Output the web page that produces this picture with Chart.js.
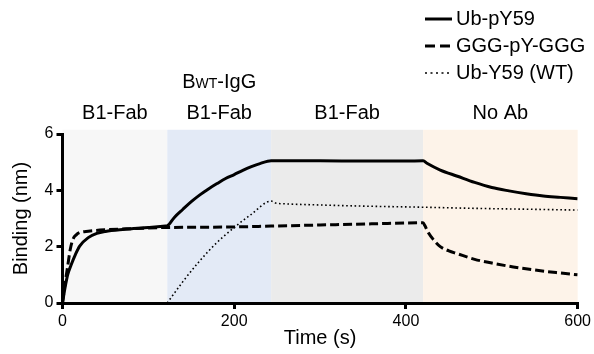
<!DOCTYPE html>
<html>
<head>
    <title>Binding kinetics</title>
    <script src="https://cdn.jsdelivr.net/npm/chart.js"></script>
    <style>
        body { margin: 0; background: #fff; }
    </style>
</head>
<body>
    <canvas id="bindingChart" width="594" height="354"></canvas>

    <script>
        // series (time in s, binding in nm)
        const pY59Time = [0, 3, 6, 10, 15, 20, 30, 40, 50, 70, 100, 120, 122, 130, 140, 150, 160, 170, 180, 190, 200, 210, 220, 230, 243, 260, 300, 350, 400, 420, 425, 440, 460, 480, 500, 520, 540, 560, 580, 600];
        const pY59Vals = [0, 0.55, 1.0, 1.35, 1.72, 2.02, 2.32, 2.47, 2.54, 2.61, 2.68, 2.73, 2.74, 3.03, 3.32, 3.6, 3.84, 4.05, 4.24, 4.42, 4.56, 4.71, 4.84, 4.95, 5.05, 5.05, 5.05, 5.04, 5.04, 5.05, 4.95, 4.72, 4.5, 4.28, 4.1, 3.98, 3.88, 3.8, 3.75, 3.7];

        const gggTime = [0, 3, 6, 9, 12, 16, 20, 30, 50, 80, 120, 160, 200, 243, 300, 360, 420, 422, 426, 432, 440, 450, 460, 480, 500, 525, 550, 575, 600];
        const gggVals = [0, 0.7, 1.3, 1.9, 2.25, 2.42, 2.5, 2.55, 2.6, 2.64, 2.68, 2.69, 2.7, 2.73, 2.77, 2.81, 2.85, 2.75, 2.5, 2.25, 2.0, 1.85, 1.75, 1.55, 1.42, 1.28, 1.17, 1.08, 1.0];

        const wtTime = [122, 140, 160, 180, 200, 220, 243, 248, 260, 300, 350, 420, 480, 540, 600];
        const wtVals = [0, 0.75, 1.5, 2.15, 2.68, 3.15, 3.62, 3.55, 3.52, 3.48, 3.44, 3.4, 3.36, 3.33, 3.3];

        const seriesNames = ['Ub-pY59', 'GGG-pY-GGG', 'Ub-Y59 (WT)'];

        // phases of the experiment
        const phaseStart = [0, 122, 243, 420];
        const phaseEnd = [122, 243, 420, 600];
        const phaseLabels = ['B1-Fab', 'B1-Fab', 'B1-Fab', 'No Ab'];
        const phaseColors = ['#f7f7f7', '#e3eaf6', '#ebebeb', '#fdf3e9'];

        const xTicks = [0, 200, 400, 600];
        const yTicks = [0, 2, 4, 6];

        const FONT = 'Liberation Sans, Arial, Helvetica, sans-serif';

        function toPoints(xs, ys) {
            return xs.map((x, i) => ({ x: x, y: ys[i] }));
        }

        const phasePlugin = {
            id: 'phases',
            beforeDraw(chart) {
                const ctx = chart.ctx;
                const xs = chart.scales.x, ys = chart.scales.y;
                const top = ys.getPixelForValue(6.15);
                const bottom = ys.getPixelForValue(0);
                ctx.save();
                phaseStart.forEach((s, i) => {
                    const l = xs.getPixelForValue(s);
                    const r = xs.getPixelForValue(phaseEnd[i]);
                    ctx.fillStyle = phaseColors[i];
                    ctx.fillRect(l, top, r - l, bottom - top);
                });
                ctx.restore();
            },
            afterDraw(chart) {
                const ctx = chart.ctx;
                const xs = chart.scales.x;
                ctx.save();
                ctx.fillStyle = '#000';
                ctx.textBaseline = 'alphabetic';
                ctx.font = '20px ' + FONT;
                ctx.textAlign = 'center';
                phaseStart.forEach((s, i) => {
                    const cx = xs.getPixelForValue((s + phaseEnd[i]) / 2);
                    ctx.fillText(phaseLabels[i], cx, 119);
                });

                // "BWT-IgG" above the second phase, WT in small caps
                const cx2 = xs.getPixelForValue((phaseStart[1] + phaseEnd[1]) / 2);
                ctx.textAlign = 'left';
                ctx.font = '20px ' + FONT;
                const wB = ctx.measureText('B').width;
                const wTail = ctx.measureText('-IgG').width;
                ctx.font = '14px ' + FONT;
                const wWT = ctx.measureText('WT').width;
                let x0 = cx2 - (wB + wWT + wTail) / 2;
                ctx.font = '20px ' + FONT;
                ctx.fillText('B', x0, 88);
                ctx.font = '14px ' + FONT;
                ctx.fillText('WT', x0 + wB, 88);
                ctx.font = '20px ' + FONT;
                ctx.fillText('-IgG', x0 + wB + wWT, 88);

                // legend
                chart.data.datasets.forEach((ds, i) => {
                    const base = 25 + i * 27;
                    ctx.strokeStyle = ds.borderColor;
                    ctx.lineWidth = ds.borderWidth;
                    ctx.setLineDash(ds.legendDash);
                    ctx.beginPath();
                    ctx.moveTo(425, base - 6);
                    ctx.lineTo(452, base - 6);
                    ctx.stroke();
                    ctx.setLineDash([]);
                    ctx.font = '20px ' + FONT;
                    ctx.fillText(ds.label, 456, base);
                });
                ctx.restore();
            }
        };

        const axisCommon = {
            border: { display: true, color: '#000', width: 3 },
            grid: { display: true, drawOnChartArea: false, drawTicks: true, tickLength: 6, color: '#000', lineWidth: 3 },
            ticks: { color: '#000', padding: 3, font: { family: FONT, size: 16 } }
        };

        new Chart(document.getElementById('bindingChart'), {
            type: 'line',
            data: {
                datasets: [
                    {
                        label: seriesNames[0],
                        data: toPoints(pY59Time, pY59Vals),
                        borderColor: '#000',
                        borderWidth: 3,
                        borderDash: [],
                        legendDash: [],
                        pointRadius: 0,
                        cubicInterpolationMode: 'monotone'
                    },
                    {
                        label: seriesNames[1],
                        data: toPoints(gggTime, gggVals),
                        borderColor: '#000',
                        borderWidth: 3,
                        borderDash: [9, 4],
                        legendDash: [10, 5],
                        pointRadius: 0,
                        cubicInterpolationMode: 'monotone'
                    },
                    {
                        label: seriesNames[2],
                        data: toPoints(wtTime, wtVals),
                        borderColor: '#000',
                        borderWidth: 1.6,
                        borderDash: [1.6, 2.6],
                        legendDash: [2, 3.5],
                        pointRadius: 0,
                        cubicInterpolationMode: 'monotone'
                    }
                ]
            },
            options: {
                responsive: false,
                animation: false,
                layout: { padding: { top: 134, right: 15, bottom: 0, left: 0 } },
                plugins: { legend: { display: false }, tooltip: { enabled: false } },
                scales: {
                    x: {
                        type: 'linear',
                        min: 0,
                        max: 600,
                        afterBuildTicks: s => { s.ticks = xTicks.map(v => ({ value: v })); },
                        afterFit: s => { s.height = 51; },
                        title: { display: true, text: 'Time (s)', color: '#000', font: { family: FONT, size: 20 }, padding: { top: 0, bottom: 4 } },
                        ...axisCommon
                    },
                    y: {
                        min: 0,
                        max: 6,
                        afterBuildTicks: s => { s.ticks = yTicks.map(v => ({ value: v })); },
                        afterFit: s => { s.width = 62.5; },
                        title: { display: true, text: 'Binding (nm)', color: '#000', font: { family: FONT, size: 20 }, padding: { top: 9, bottom: 0 } },
                        ...axisCommon
                    }
                }
            },
            plugins: [phasePlugin]
        });
    </script>
</body>
</html>
